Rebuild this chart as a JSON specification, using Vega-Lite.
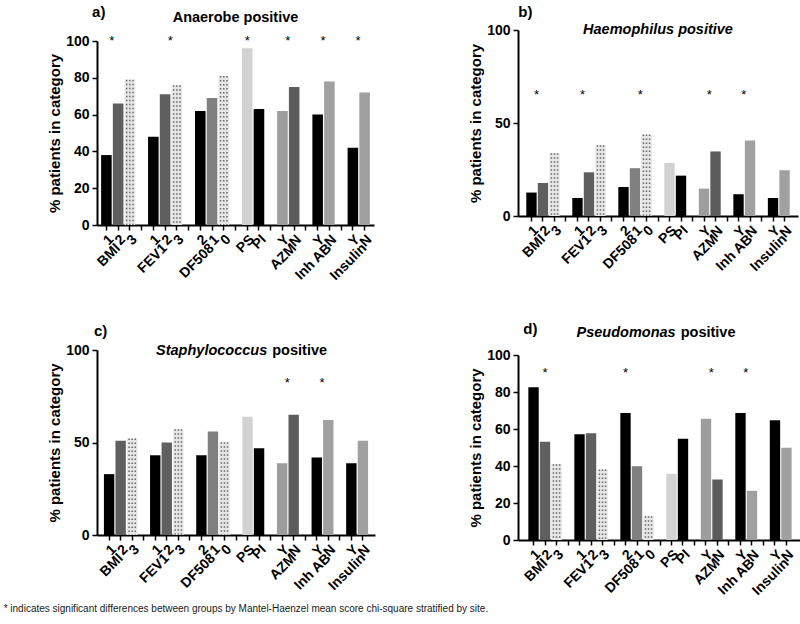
{
"$schema": "https://vega.github.io/schema/vega-lite/v6.json",
"padding": {"left": 3, "top": 4, "right": 3, "bottom": 3},
"datasets": {
"bars": [
{"p":"a","slot":"BMI 1","v":38},{"p":"a","slot":"BMI 2","v":66},{"p":"a","slot":"BMI 3","v":79},
{"p":"a","slot":"FEV1 1","v":48},{"p":"a","slot":"FEV1 2","v":71},{"p":"a","slot":"FEV1 3","v":76},
{"p":"a","slot":"DF508 2","v":62},{"p":"a","slot":"DF508 1","v":69},{"p":"a","slot":"DF508 0","v":81},
{"p":"a","slot":"PS","v":96},{"p":"a","slot":"PI","v":63},
{"p":"a","slot":"AZM Y","v":62},{"p":"a","slot":"AZM N","v":75},
{"p":"a","slot":"Inh AB Y","v":60},{"p":"a","slot":"Inh AB N","v":78},
{"p":"a","slot":"Insulin Y","v":42},{"p":"a","slot":"Insulin N","v":72},
{"p":"b","slot":"BMI 1","v":12.6},{"p":"b","slot":"BMI 2","v":17.8},{"p":"b","slot":"BMI 3","v":33.8},
{"p":"b","slot":"FEV1 1","v":9.7},{"p":"b","slot":"FEV1 2","v":23.5},{"p":"b","slot":"FEV1 3","v":38.1},
{"p":"b","slot":"DF508 2","v":15.6},{"p":"b","slot":"DF508 1","v":25.7},{"p":"b","slot":"DF508 0","v":43.8},
{"p":"b","slot":"PS","v":28.5},{"p":"b","slot":"PI","v":21.7},
{"p":"b","slot":"AZM Y","v":14.7},{"p":"b","slot":"AZM N","v":34.7},
{"p":"b","slot":"Inh AB Y","v":11.7},{"p":"b","slot":"Inh AB N","v":40.6},
{"p":"b","slot":"Insulin Y","v":9.7},{"p":"b","slot":"Insulin N","v":24.6},
{"p":"c","slot":"BMI 1","v":32.9},{"p":"c","slot":"BMI 2","v":50.9},{"p":"c","slot":"BMI 3","v":52.2},
{"p":"c","slot":"FEV1 1","v":43.1},{"p":"c","slot":"FEV1 2","v":50.0},{"p":"c","slot":"FEV1 3","v":57.2},
{"p":"c","slot":"DF508 2","v":43.1},{"p":"c","slot":"DF508 1","v":56.0},{"p":"c","slot":"DF508 0","v":50.2},
{"p":"c","slot":"PS","v":63.9},{"p":"c","slot":"PI","v":46.9},
{"p":"c","slot":"AZM Y","v":38.8},{"p":"c","slot":"AZM N","v":65.0},
{"p":"c","slot":"Inh AB Y","v":41.9},{"p":"c","slot":"Inh AB N","v":62.1},
{"p":"c","slot":"Insulin Y","v":38.8},{"p":"c","slot":"Insulin N","v":50.9},
{"p":"d","slot":"BMI 1","v":82.6},{"p":"d","slot":"BMI 2","v":53.1},{"p":"d","slot":"BMI 3","v":41.0},
{"p":"d","slot":"FEV1 1","v":57.2},{"p":"d","slot":"FEV1 2","v":57.7},{"p":"d","slot":"FEV1 3","v":38.1},
{"p":"d","slot":"DF508 2","v":68.7},{"p":"d","slot":"DF508 1","v":39.9},{"p":"d","slot":"DF508 0","v":12.8},
{"p":"d","slot":"PS","v":35.8},{"p":"d","slot":"PI","v":54.7},
{"p":"d","slot":"AZM Y","v":65.6},{"p":"d","slot":"AZM N","v":32.7},
{"p":"d","slot":"Inh AB Y","v":68.7},{"p":"d","slot":"Inh AB N","v":26.6},
{"p":"d","slot":"Insulin Y","v":64.7},{"p":"d","slot":"Insulin N","v":49.8}
],
"stars": [
{"p":"a","slot":"BMI 1","at":"edge"},{"p":"a","slot":"FEV1 2","at":"edge"},{"p":"a","slot":"PS","at":"center"},
{"p":"a","slot":"AZM Y","at":"edge"},{"p":"a","slot":"Inh AB Y","at":"edge"},{"p":"a","slot":"Insulin Y","at":"edge"},
{"p":"b","slot":"BMI 1","at":"edge"},{"p":"b","slot":"FEV1 1","at":"edge"},{"p":"b","slot":"DF508 1","at":"edge"},
{"p":"b","slot":"AZM Y","at":"edge"},{"p":"b","slot":"Inh AB Y","at":"edge"},
{"p":"c","slot":"AZM Y","at":"edge"},{"p":"c","slot":"Inh AB Y","at":"edge"},
{"p":"d","slot":"BMI 2","at":"center"},{"p":"d","slot":"DF508 2","at":"center"},
{"p":"d","slot":"AZM Y","at":"edge"},{"p":"d","slot":"Inh AB Y","at":"edge"}
],
"groups": [
{"slot":"BMI 1","label":"BMI"},{"slot":"FEV1 1","label":"FEV1"},{"slot":"DF508 2","label":"DF508"},
{"slot":"AZM Y","label":"AZM"},{"slot":"Inh AB Y","label":"Inh AB"},{"slot":"Insulin Y","label":"Insulin"}
],
"titles": [
{"p":"a","part":"letter","text":"a)"},{"p":"a","part":"main","text":"Anaerobe positive"},
{"p":"b","part":"letter","text":"b)"},{"p":"b","part":"italic","text":"Haemophilus positive"},
{"p":"c","part":"letter","text":"c)"},{"p":"c","part":"italic","text":"Staphylococcus"},{"p":"c","part":"normal","text":"positive"},
{"p":"d","part":"letter","text":"d)"},{"p":"d","part":"italic","text":"Pseudomonas"},{"p":"d","part":"normal","text":"positive"}
]
},
"title": {"text": "* indicates significant differences between groups by Mantel-Haenzel mean score chi-square stratified by site.", "orient": "bottom", "anchor": "start", "font": "Liberation Sans", "fontSize": 10, "fontWeight": "normal", "color": "#1a1a1a", "offset": 6, "dx": -44},
"columns": 2,
"spacing": {"row": 38, "column": 93},
"concat": [
{
"width": 277, "height": 195,
"layer": [
{"data":{"name":"bars"},"transform":[{"filter":"datum.p=='a'"}],"mark":{"type":"bar"},
 "encoding":{
  "x":{"field":"slot","type":"nominal","scale":{"domain":["BMI 1","BMI 2","BMI 3","g1","FEV1 1","FEV1 2","FEV1 3","g2","DF508 2","DF508 1","DF508 0","g3","PS","PI","g4","AZM Y","AZM N","g5","Inh AB Y","Inh AB N","g6","Insulin Y","Insulin N"],"paddingInner":0.1,"paddingOuter":0.35},
   "axis":{"title":null,"labelAngle":-45,"labelAlign":"right","labelBaseline":"top","labelPadding":2,"labelOverlap":false,"labelExpr":"slice(datum.label,0,1)=='g' ? '' : peek(split(datum.label,' '))"}},
  "y":{"field":"v","type":"quantitative","scale":{"domain":[0,100],"nice":false,"range":[195,11]},"axis":{"title":"% patients in category","values":[0,20,40,60,80,100],"labelOverlap":false,"titlePadding":3,"labelPadding":3}},
  "color":{"field":"slot","type":"nominal","legend":null,"scale":{"domain":["BMI 1","BMI 2","BMI 3","FEV1 1","FEV1 2","FEV1 3","DF508 2","DF508 1","DF508 0","PS","PI","AZM Y","AZM N","Inh AB Y","Inh AB N","Insulin Y","Insulin N"],"range":["#000000","#5f5f5f","#e6e6e6","#000000","#5f5f5f","#e6e6e6","#000000","#808080","#e6e6e6","#d2d2d2","#000000","#9d9d9d","#5c5c5c","#000000","#a0a0a0","#000000","#a0a0a0"]}}}},
{"data":{"name":"bars"},"transform":[{"filter":"datum.p=='a' && (datum.slot=='BMI 3'||datum.slot=='FEV1 3'||datum.slot=='DF508 0')"}],"mark":{"type":"rule","strokeDash":[1.5,2.5],"strokeWidth":1.5,"color":"#6a6a6a"},
 "encoding":{"x":{"field":"slot","type":"nominal","bandPosition":0.2},"y":{"field":"v","type":"quantitative","axis":{"title":"% patients in category","values":[0,20,40,60,80,100],"labelOverlap":false,"titlePadding":3,"labelPadding":3}},"y2":{"datum":0}}},
{"data":{"name":"bars"},"transform":[{"filter":"datum.p=='a' && (datum.slot=='BMI 3'||datum.slot=='FEV1 3'||datum.slot=='DF508 0')"}],"mark":{"type":"rule","strokeDash":[1.5,2.5],"strokeWidth":1.5,"color":"#6a6a6a"},
 "encoding":{"x":{"field":"slot","type":"nominal","bandPosition":0.5},"y":{"field":"v","type":"quantitative","axis":{"title":"% patients in category","values":[0,20,40,60,80,100],"labelOverlap":false,"titlePadding":3,"labelPadding":3}},"y2":{"datum":0}}},
{"data":{"name":"bars"},"transform":[{"filter":"datum.p=='a' && (datum.slot=='BMI 3'||datum.slot=='FEV1 3'||datum.slot=='DF508 0')"}],"mark":{"type":"rule","strokeDash":[1.5,2.5],"strokeWidth":1.5,"color":"#6a6a6a"},
 "encoding":{"x":{"field":"slot","type":"nominal","bandPosition":0.8},"y":{"field":"v","type":"quantitative","axis":{"title":"% patients in category","values":[0,20,40,60,80,100],"labelOverlap":false,"titlePadding":3,"labelPadding":3}},"y2":{"datum":0}}},
{"data":{"name":"stars"},"transform":[{"filter":"datum.p=='a' && datum.at=='edge'"}],"mark":{"type":"text","text":"*","fontSize":13,"fontWeight":"normal","baseline":"middle","dy":3},
 "encoding":{"x":{"field":"slot","type":"nominal","bandPosition":1},"y":{"datum":101.6,"type":"quantitative","axis":{"title":"% patients in category","values":[0,20,40,60,80,100],"labelOverlap":false,"titlePadding":3,"labelPadding":3}}}},
{"data":{"name":"stars"},"transform":[{"filter":"datum.p=='a' && datum.at=='center'"}],"mark":{"type":"text","text":"*","fontSize":13,"fontWeight":"normal","baseline":"middle","dy":3},
 "encoding":{"x":{"field":"slot","type":"nominal","bandPosition":0.5},"y":{"datum":101.6,"type":"quantitative","axis":{"title":"% patients in category","values":[0,20,40,60,80,100],"labelOverlap":false,"titlePadding":3,"labelPadding":3}}}},
{"data":{"name":"groups"},"mark":{"type":"text","angle":-45,"align":"right","baseline":"top","dx":-3,"dy":20,"fontSize":14},
 "encoding":{"x":{"field":"slot","type":"nominal","bandPosition":0},"y":{"datum":0,"type":"quantitative","axis":{"title":"% patients in category","values":[0,20,40,60,80,100],"labelOverlap":false,"titlePadding":3,"labelPadding":3}},"text":{"field":"label"}}},
{"data":{"name":"titles"},"transform":[{"filter":"datum.p=='a' && datum.part=='letter'"}],"mark":{"type":"text","align":"left","baseline":"middle","dx":-9,"fontSize":15},
 "encoding":{"x":{"datum":"BMI 1","type":"nominal","bandPosition":0},"y":{"datum":116,"type":"quantitative","axis":{"title":"% patients in category","values":[0,20,40,60,80,100],"labelOverlap":false,"titlePadding":3,"labelPadding":3}},"text":{"field":"text"}}},
{"data":{"name":"titles"},"transform":[{"filter":"datum.p=='a' && datum.part=='main'"}],"mark":{"type":"text","align":"center","baseline":"middle","fontSize":14.5},
 "encoding":{"x":{"datum":"g3","type":"nominal"},"y":{"datum":112.3,"type":"quantitative","axis":{"title":"% patients in category","values":[0,20,40,60,80,100],"labelOverlap":false,"titlePadding":3,"labelPadding":3}},"text":{"field":"text"}}}
]
},
{
"width": 280, "height": 186,
"layer": [
{"data":{"name":"bars"},"transform":[{"filter":"datum.p=='b'"}],"mark":{"type":"bar"},
 "encoding":{
  "x":{"field":"slot","type":"nominal","scale":{"domain":["BMI 1","BMI 2","BMI 3","g1","FEV1 1","FEV1 2","FEV1 3","g2","DF508 2","DF508 1","DF508 0","g3","PS","PI","g4","AZM Y","AZM N","g5","Inh AB Y","Inh AB N","g6","Insulin Y","Insulin N"],"paddingInner":0.1,"paddingOuter":0.72},
   "axis":{"title":null,"labelAngle":-45,"labelAlign":"right","labelBaseline":"top","labelPadding":2,"labelOverlap":false,"labelExpr":"slice(datum.label,0,1)=='g' ? '' : peek(split(datum.label,' '))"}},
  "y":{"field":"v","type":"quantitative","scale":{"domain":[0,100],"nice":false},"axis":{"title":"% patients in category","values":[0,50,100],"labelOverlap":false,"titlePadding":3,"labelPadding":3}},
  "color":{"field":"slot","type":"nominal","legend":null,"scale":{"domain":["BMI 1","BMI 2","BMI 3","FEV1 1","FEV1 2","FEV1 3","DF508 2","DF508 1","DF508 0","PS","PI","AZM Y","AZM N","Inh AB Y","Inh AB N","Insulin Y","Insulin N"],"range":["#000000","#5f5f5f","#e6e6e6","#000000","#5f5f5f","#e6e6e6","#000000","#808080","#e6e6e6","#d2d2d2","#000000","#9d9d9d","#5c5c5c","#000000","#a0a0a0","#000000","#a0a0a0"]}}}},
{"data":{"name":"bars"},"transform":[{"filter":"datum.p=='b' && (datum.slot=='BMI 3'||datum.slot=='FEV1 3'||datum.slot=='DF508 0')"}],"mark":{"type":"rule","strokeDash":[1.5,2.5],"strokeWidth":1.5,"color":"#6a6a6a"},
 "encoding":{"x":{"field":"slot","type":"nominal","bandPosition":0.2},"y":{"field":"v","type":"quantitative"},"y2":{"datum":0}}},
{"data":{"name":"bars"},"transform":[{"filter":"datum.p=='b' && (datum.slot=='BMI 3'||datum.slot=='FEV1 3'||datum.slot=='DF508 0')"}],"mark":{"type":"rule","strokeDash":[1.5,2.5],"strokeWidth":1.5,"color":"#6a6a6a"},
 "encoding":{"x":{"field":"slot","type":"nominal","bandPosition":0.5},"y":{"field":"v","type":"quantitative"},"y2":{"datum":0}}},
{"data":{"name":"bars"},"transform":[{"filter":"datum.p=='b' && (datum.slot=='BMI 3'||datum.slot=='FEV1 3'||datum.slot=='DF508 0')"}],"mark":{"type":"rule","strokeDash":[1.5,2.5],"strokeWidth":1.5,"color":"#6a6a6a"},
 "encoding":{"x":{"field":"slot","type":"nominal","bandPosition":0.8},"y":{"field":"v","type":"quantitative"},"y2":{"datum":0}}},
{"data":{"name":"stars"},"transform":[{"filter":"datum.p=='b' && datum.at=='edge'"}],"mark":{"type":"text","text":"*","fontSize":13,"fontWeight":"normal","baseline":"middle","dy":3},
 "encoding":{"x":{"field":"slot","type":"nominal","bandPosition":1},"y":{"datum":66.8,"type":"quantitative"}}},
{"data":{"name":"groups"},"mark":{"type":"text","angle":-45,"align":"right","baseline":"top","dx":-3,"dy":20,"fontSize":14},
 "encoding":{"x":{"field":"slot","type":"nominal","bandPosition":0},"y":{"datum":0,"type":"quantitative"},"text":{"field":"label"}}},
{"data":{"name":"titles"},"transform":[{"filter":"datum.p=='b' && datum.part=='letter'"}],"mark":{"type":"text","align":"left","baseline":"middle","dx":-8,"fontSize":15},
 "encoding":{"x":{"datum":"BMI 1","type":"nominal","bandPosition":0},"y":{"datum":109.5,"type":"quantitative"},"text":{"field":"text"}}},
{"data":{"name":"titles"},"transform":[{"filter":"datum.p=='b' && datum.part=='italic'"}],"mark":{"type":"text","align":"center","baseline":"middle","fontSize":14.5,"fontStyle":"italic"},
 "encoding":{"x":{"datum":"g3","type":"nominal"},"y":{"datum":100,"type":"quantitative"},"text":{"field":"text"}}}
]
},
{
"width": 278, "height": 185,
"layer": [
{"data":{"name":"bars"},"transform":[{"filter":"datum.p=='c'"}],"mark":{"type":"bar"},
 "encoding":{
  "x":{"field":"slot","type":"nominal","scale":{"domain":["BMI 1","BMI 2","BMI 3","g1","FEV1 1","FEV1 2","FEV1 3","g2","DF508 2","DF508 1","DF508 0","g3","PS","PI","g4","AZM Y","AZM N","g5","Inh AB Y","Inh AB N","g6","Insulin Y","Insulin N"],"paddingInner":0.1,"paddingOuter":0.6},
   "axis":{"title":null,"labelAngle":-45,"labelAlign":"right","labelBaseline":"top","labelPadding":2,"labelOverlap":false,"labelExpr":"slice(datum.label,0,1)=='g' ? '' : peek(split(datum.label,' '))"}},
  "y":{"field":"v","type":"quantitative","scale":{"domain":[0,100],"nice":false},"axis":{"title":"% patients in category","values":[0,50,100],"labelOverlap":false,"titlePadding":3,"labelPadding":3}},
  "color":{"field":"slot","type":"nominal","legend":null,"scale":{"domain":["BMI 1","BMI 2","BMI 3","FEV1 1","FEV1 2","FEV1 3","DF508 2","DF508 1","DF508 0","PS","PI","AZM Y","AZM N","Inh AB Y","Inh AB N","Insulin Y","Insulin N"],"range":["#000000","#5f5f5f","#e6e6e6","#000000","#5f5f5f","#e6e6e6","#000000","#808080","#e6e6e6","#d2d2d2","#000000","#9d9d9d","#5c5c5c","#000000","#a0a0a0","#000000","#a0a0a0"]}}}},
{"data":{"name":"bars"},"transform":[{"filter":"datum.p=='c' && (datum.slot=='BMI 3'||datum.slot=='FEV1 3'||datum.slot=='DF508 0')"}],"mark":{"type":"rule","strokeDash":[1.5,2.5],"strokeWidth":1.5,"color":"#6a6a6a"},
 "encoding":{"x":{"field":"slot","type":"nominal","bandPosition":0.2},"y":{"field":"v","type":"quantitative"},"y2":{"datum":0}}},
{"data":{"name":"bars"},"transform":[{"filter":"datum.p=='c' && (datum.slot=='BMI 3'||datum.slot=='FEV1 3'||datum.slot=='DF508 0')"}],"mark":{"type":"rule","strokeDash":[1.5,2.5],"strokeWidth":1.5,"color":"#6a6a6a"},
 "encoding":{"x":{"field":"slot","type":"nominal","bandPosition":0.5},"y":{"field":"v","type":"quantitative"},"y2":{"datum":0}}},
{"data":{"name":"bars"},"transform":[{"filter":"datum.p=='c' && (datum.slot=='BMI 3'||datum.slot=='FEV1 3'||datum.slot=='DF508 0')"}],"mark":{"type":"rule","strokeDash":[1.5,2.5],"strokeWidth":1.5,"color":"#6a6a6a"},
 "encoding":{"x":{"field":"slot","type":"nominal","bandPosition":0.8},"y":{"field":"v","type":"quantitative"},"y2":{"datum":0}}},
{"data":{"name":"stars"},"transform":[{"filter":"datum.p=='c' && datum.at=='edge'"}],"mark":{"type":"text","text":"*","fontSize":13,"fontWeight":"normal","baseline":"middle","dy":3},
 "encoding":{"x":{"field":"slot","type":"nominal","bandPosition":1},"y":{"datum":83.9,"type":"quantitative"}}},
{"data":{"name":"groups"},"mark":{"type":"text","angle":-45,"align":"right","baseline":"top","dx":-3,"dy":20,"fontSize":14},
 "encoding":{"x":{"field":"slot","type":"nominal","bandPosition":0},"y":{"datum":0,"type":"quantitative"},"text":{"field":"label"}}},
{"data":{"name":"titles"},"transform":[{"filter":"datum.p=='c' && datum.part=='letter'"}],"mark":{"type":"text","align":"left","baseline":"middle","dx":-10,"fontSize":15},
 "encoding":{"x":{"datum":"BMI 1","type":"nominal","bandPosition":0},"y":{"datum":110.4,"type":"quantitative"},"text":{"field":"text"}}},
{"data":{"name":"titles"},"transform":[{"filter":"datum.p=='c' && datum.part=='italic'"}],"mark":{"type":"text","align":"right","baseline":"middle","dx":3,"fontSize":14.5,"fontStyle":"italic"},
 "encoding":{"x":{"datum":"PI","type":"nominal","bandPosition":1},"y":{"datum":99.6,"type":"quantitative"},"text":{"field":"text"}}},
{"data":{"name":"titles"},"transform":[{"filter":"datum.p=='c' && datum.part=='normal'"}],"mark":{"type":"text","align":"left","baseline":"middle","dx":8,"fontSize":14.5},
 "encoding":{"x":{"datum":"PI","type":"nominal","bandPosition":1},"y":{"datum":99.6,"type":"quantitative"},"text":{"field":"text"}}}
]
},
{
"width": 284, "height": 190,
"layer": [
{"data":{"name":"bars"},"transform":[{"filter":"datum.p=='d'"}],"mark":{"type":"bar"},
 "encoding":{
  "x":{"field":"slot","type":"nominal","scale":{"domain":["BMI 1","BMI 2","BMI 3","g1","FEV1 1","FEV1 2","FEV1 3","g2","DF508 2","DF508 1","DF508 0","g3","PS","PI","g4","AZM Y","AZM N","g5","Inh AB Y","Inh AB N","g6","Insulin Y","Insulin N"],"paddingInner":0.1,"paddingOuter":0.9},
   "axis":{"title":null,"labelAngle":-45,"labelAlign":"right","labelBaseline":"top","labelPadding":2,"labelOverlap":false,"labelExpr":"slice(datum.label,0,1)=='g' ? '' : peek(split(datum.label,' '))"}},
  "y":{"field":"v","type":"quantitative","scale":{"domain":[0,100],"nice":false,"range":[190,5]},"axis":{"title":"% patients in category","values":[0,20,40,60,80,100],"labelOverlap":false,"titlePadding":3,"labelPadding":3}},
  "color":{"field":"slot","type":"nominal","legend":null,"scale":{"domain":["BMI 1","BMI 2","BMI 3","FEV1 1","FEV1 2","FEV1 3","DF508 2","DF508 1","DF508 0","PS","PI","AZM Y","AZM N","Inh AB Y","Inh AB N","Insulin Y","Insulin N"],"range":["#000000","#5f5f5f","#e6e6e6","#000000","#5f5f5f","#e6e6e6","#000000","#808080","#e6e6e6","#d2d2d2","#000000","#9d9d9d","#5c5c5c","#000000","#a0a0a0","#000000","#a0a0a0"]}}}},
{"data":{"name":"bars"},"transform":[{"filter":"datum.p=='d' && (datum.slot=='BMI 3'||datum.slot=='FEV1 3'||datum.slot=='DF508 0')"}],"mark":{"type":"rule","strokeDash":[1.5,2.5],"strokeWidth":1.5,"color":"#6a6a6a"},
 "encoding":{"x":{"field":"slot","type":"nominal","bandPosition":0.2},"y":{"field":"v","type":"quantitative","axis":{"title":"% patients in category","values":[0,20,40,60,80,100],"labelOverlap":false,"titlePadding":3,"labelPadding":3}},"y2":{"datum":0}}},
{"data":{"name":"bars"},"transform":[{"filter":"datum.p=='d' && (datum.slot=='BMI 3'||datum.slot=='FEV1 3'||datum.slot=='DF508 0')"}],"mark":{"type":"rule","strokeDash":[1.5,2.5],"strokeWidth":1.5,"color":"#6a6a6a"},
 "encoding":{"x":{"field":"slot","type":"nominal","bandPosition":0.5},"y":{"field":"v","type":"quantitative","axis":{"title":"% patients in category","values":[0,20,40,60,80,100],"labelOverlap":false,"titlePadding":3,"labelPadding":3}},"y2":{"datum":0}}},
{"data":{"name":"bars"},"transform":[{"filter":"datum.p=='d' && (datum.slot=='BMI 3'||datum.slot=='FEV1 3'||datum.slot=='DF508 0')"}],"mark":{"type":"rule","strokeDash":[1.5,2.5],"strokeWidth":1.5,"color":"#6a6a6a"},
 "encoding":{"x":{"field":"slot","type":"nominal","bandPosition":0.8},"y":{"field":"v","type":"quantitative","axis":{"title":"% patients in category","values":[0,20,40,60,80,100],"labelOverlap":false,"titlePadding":3,"labelPadding":3}},"y2":{"datum":0}}},
{"data":{"name":"stars"},"transform":[{"filter":"datum.p=='d' && datum.at=='edge'"}],"mark":{"type":"text","text":"*","fontSize":13,"fontWeight":"normal","baseline":"middle","dy":3},
 "encoding":{"x":{"field":"slot","type":"nominal","bandPosition":1},"y":{"datum":91.9,"type":"quantitative","axis":{"title":"% patients in category","values":[0,20,40,60,80,100],"labelOverlap":false,"titlePadding":3,"labelPadding":3}}}},
{"data":{"name":"stars"},"transform":[{"filter":"datum.p=='d' && datum.at=='center'"}],"mark":{"type":"text","text":"*","fontSize":13,"fontWeight":"normal","baseline":"middle","dy":3},
 "encoding":{"x":{"field":"slot","type":"nominal","bandPosition":0.5},"y":{"datum":91.9,"type":"quantitative","axis":{"title":"% patients in category","values":[0,20,40,60,80,100],"labelOverlap":false,"titlePadding":3,"labelPadding":3}}}},
{"data":{"name":"groups"},"mark":{"type":"text","angle":-45,"align":"right","baseline":"top","dx":-3,"dy":20,"fontSize":14},
 "encoding":{"x":{"field":"slot","type":"nominal","bandPosition":0},"y":{"datum":0,"type":"quantitative","axis":{"title":"% patients in category","values":[0,20,40,60,80,100],"labelOverlap":false,"titlePadding":3,"labelPadding":3}},"text":{"field":"label"}}},
{"data":{"name":"titles"},"transform":[{"filter":"datum.p=='d' && datum.part=='letter'"}],"mark":{"type":"text","align":"left","baseline":"middle","dx":-5,"fontSize":15},
 "encoding":{"x":{"datum":"BMI 1","type":"nominal","bandPosition":0},"y":{"datum":114,"type":"quantitative","axis":{"title":"% patients in category","values":[0,20,40,60,80,100],"labelOverlap":false,"titlePadding":3,"labelPadding":3}},"text":{"field":"text"}}},
{"data":{"name":"titles"},"transform":[{"filter":"datum.p=='d' && datum.part=='italic'"}],"mark":{"type":"text","align":"right","baseline":"middle","dx":-1,"fontSize":14.5,"fontStyle":"italic"},
 "encoding":{"x":{"datum":"PS","type":"nominal","bandPosition":1},"y":{"datum":111.9,"type":"quantitative","axis":{"title":"% patients in category","values":[0,20,40,60,80,100],"labelOverlap":false,"titlePadding":3,"labelPadding":3}},"text":{"field":"text"}}},
{"data":{"name":"titles"},"transform":[{"filter":"datum.p=='d' && datum.part=='normal'"}],"mark":{"type":"text","align":"left","baseline":"middle","dx":4,"fontSize":14.5},
 "encoding":{"x":{"datum":"PS","type":"nominal","bandPosition":1},"y":{"datum":111.9,"type":"quantitative","axis":{"title":"% patients in category","values":[0,20,40,60,80,100],"labelOverlap":false,"titlePadding":3,"labelPadding":3}},"text":{"field":"text"}}}
]
}
],
"config": {
"font": "Liberation Sans",
"view": {"stroke": null},
"axis": {"domainColor":"#000000","domainWidth":2,"tickColor":"#000000","tickWidth":1.5,"tickSize":5,"labelColor":"#000000","labelFont":"Liberation Sans","labelFontSize":14,"labelFontWeight":"bold","titleColor":"#000000","titleFont":"Liberation Sans","titleFontSize":15,"titleFontWeight":"bold","grid":false,"labelOverlap":false},
"axisY": {"labelOverlap": false, "labelFlush": false, "labelBound": false},
"text": {"font":"Liberation Sans","fontWeight":"bold","color":"#000000"}
}
}
